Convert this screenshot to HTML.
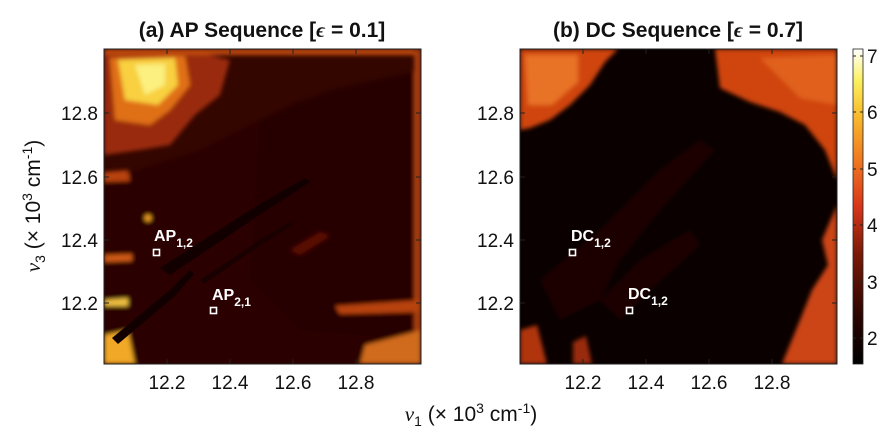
<!DOCTYPE html>
<html><head><style>
body{margin:0;background:#fff;}
svg{display:block;font-family:"Liberation Sans",Arial,sans-serif;}
</style></head><body>
<svg width="882" height="442" viewBox="0 0 882 442" xmlns="http://www.w3.org/2000/svg">
<defs>
<linearGradient id="cb" x1="0" y1="1" x2="0" y2="0">
<stop offset="0" stop-color="#000"/>
<stop offset="0.15" stop-color="#2a0400"/>
<stop offset="0.35" stop-color="#7a1a08"/>
<stop offset="0.5" stop-color="#d8361a"/>
<stop offset="0.65" stop-color="#f07a20"/>
<stop offset="0.8" stop-color="#f8c030"/>
<stop offset="0.9" stop-color="#fbf060"/>
<stop offset="1" stop-color="#ffffff"/>
</linearGradient>
<clipPath id="ca"><rect x="104" y="49" width="317" height="315"/></clipPath>
<clipPath id="cbp"><rect x="520" y="49" width="317" height="315"/></clipPath>
<filter id="bl"><feGaussianBlur stdDeviation="2"/></filter>
</defs>

<!-- Panel a -->
<g clip-path="url(#ca)">
<rect x="104" y="49" width="317" height="315" fill="#340600"/>
<g filter="url(#bl)">
<polygon points="104,180 200,150 300,100 421,80 421,364 104,364" fill="#2c0400"/>
<polygon points="260,120 330,90 421,70 421,340 300,330 250,280" fill="#260300"/>
<polygon points="104,55 195,52 230,60 220,95 195,115 170,145 140,150 104,155" fill="#9a2a0a"/>
<polygon points="110,58 185,56 190,85 170,110 150,125 115,120" fill="#e07018"/>
<polygon points="118,60 175,58 178,85 158,105 125,100" fill="#f8d040"/>
<polygon points="135,65 165,64 165,85 145,95" fill="#fcf080"/>
<rect x="104" y="49" width="317" height="6" fill="#c04a10"/>
<rect x="414" y="49" width="7" height="315" fill="#a83e10"/>
<polygon points="104,335 128,330 135,364 104,364" fill="#f0a828"/>
<polygon points="365,345 421,330 421,364 360,364" fill="#d06a1c"/>
<polygon points="335,306 421,300 421,312 340,314" fill="#b84210"/>
<polygon points="104,300 128,298 128,306 104,306" fill="#f0c040"/>
<polygon points="104,255 132,254 132,261 104,262" fill="#d05a14"/>
<circle cx="148" cy="218" r="3.5" fill="#f0a020"/>
<polygon points="104,172 128,170 130,181 104,182" fill="#b84210"/>
<polygon points="290,250 320,232 330,236 300,255" fill="#5a1004"/>
</g>
<polygon points="160,268 250,210 305,178 310,182 255,218 170,275" fill="#120000"/>
<polygon points="112,338 170,290 190,270 194,274 175,296 118,344" fill="#120000"/>
<polygon points="200,280 260,240 290,222 292,225 262,244 204,284" fill="#180100"/>
<g fill="none" stroke="#fff" stroke-width="1.6">
<rect x="153.5" y="249.5" width="6" height="6"/>
<rect x="210.5" y="307.5" width="6" height="6"/>
</g>
<g fill="#fff" font-weight="bold">
<text x="154" y="241" font-size="16">AP<tspan font-size="12" dy="6">1,2</tspan></text>
<text x="212" y="300" font-size="16">AP<tspan font-size="12" dy="6">2,1</tspan></text>
</g>
</g>
<rect x="104" y="49" width="317" height="315" fill="none" stroke="#222" stroke-width="1"/>

<!-- Panel b -->
<g clip-path="url(#cbp)">
<rect x="520" y="49" width="317" height="315" fill="#0a0000"/>
<g filter="url(#bl)">
<polygon points="520,49 618,49 605,62 590,85 570,105 550,120 530,128 520,130" fill="#d04410"/>
<polygon points="525,55 578,55 578,82 552,105 528,105" fill="#e87228"/>
<polygon points="715,49 837,49 837,180 825,150 805,125 780,112 750,102 720,88" fill="#d04410"/>
<polygon points="760,58 837,55 837,105 800,98" fill="#e0601e"/>
<polygon points="837,205 822,240 828,265 812,290 800,320 782,364 837,364" fill="#cc4412"/>
<polygon points="520,330 537,325 547,364 520,364" fill="#b03410"/>
<polygon points="573,342 586,336 592,364 573,364" fill="#9a2c10"/>
<polygon points="540,280 600,230 660,170 700,140 715,150 660,210 620,260 600,300 560,320" fill="#1e0100"/>
<polygon points="600,300 640,260 690,230 700,245 650,290 620,320" fill="#1c0100"/>
</g>
<g fill="none" stroke="#fff" stroke-width="1.6">
<rect x="569.5" y="249.5" width="6" height="6"/>
<rect x="626.5" y="307.5" width="6" height="6"/>
</g>
<g fill="#fff" font-weight="bold">
<text x="571" y="241" font-size="16">DC<tspan font-size="12" dy="6">1,2</tspan></text>
<text x="628" y="299" font-size="16">DC<tspan font-size="12" dy="6">1,2</tspan></text>
</g>
</g>
<rect x="520" y="49" width="317" height="315" fill="none" stroke="#222" stroke-width="1"/>

<!-- ticks -->
<g stroke="#222" stroke-width="1">
<path d="M167,49v5M230,49v5M293,49v5M356,49v5M167,364v-5M230,364v-5M293,364v-5M356,364v-5"/>
<path d="M104,113h5M104,177h5M104,240h5M104,303h5M421,113h-5M421,177h-5M421,240h-5M421,303h-5"/>
<path d="M583,49v5M646,49v5M709,49v5M772,49v5M583,364v-5M646,364v-5M709,364v-5M772,364v-5"/>
<path d="M520,113h5M520,177h5M520,240h5M520,303h5M837,113h-5M837,177h-5M837,240h-5M837,303h-5"/>
</g>
<g font-size="19" fill="#111" text-anchor="middle">
<text x="167" y="389">12.2</text><text x="230" y="389">12.4</text><text x="293" y="389">12.6</text><text x="356" y="389">12.8</text>
<text x="583" y="389">12.2</text><text x="646" y="389">12.4</text><text x="709" y="389">12.6</text><text x="772" y="389">12.8</text>
</g>
<g font-size="19" fill="#111" text-anchor="end">
<text x="98" y="120">12.8</text><text x="98" y="184">12.6</text><text x="98" y="247">12.4</text><text x="98" y="310">12.2</text>
<text x="514" y="120">12.8</text><text x="514" y="184">12.6</text><text x="514" y="247">12.4</text><text x="514" y="310">12.2</text>
</g>

<!-- titles -->
<g font-size="21" font-weight="bold" fill="#111" text-anchor="middle">
<text x="262" y="37">(a) AP Sequence [<tspan font-style="italic" font-family="Liberation Serif">ϵ</tspan> = 0.1]</text>
<text x="678" y="37">(b) DC Sequence [<tspan font-style="italic" font-family="Liberation Serif">ϵ</tspan> = 0.7]</text>
</g>

<!-- axis labels -->
<text x="471" y="421" font-size="21" fill="#111" text-anchor="middle"><tspan font-style="italic" font-family="Liberation Serif">ν</tspan><tspan font-size="14" dy="5">1</tspan><tspan dy="-5"> (× 10</tspan><tspan font-size="14" dy="-8">3</tspan><tspan dy="8"> cm</tspan><tspan font-size="14" dy="-8">-1</tspan><tspan dy="8">)</tspan></text>
<text transform="translate(40,206) rotate(-90)" font-size="21" fill="#111" text-anchor="middle"><tspan font-style="italic" font-family="Liberation Serif">ν</tspan><tspan font-size="14" dy="5">3</tspan><tspan dy="-5"> (× 10</tspan><tspan font-size="14" dy="-8">3</tspan><tspan dy="8"> cm</tspan><tspan font-size="14" dy="-8">-1</tspan><tspan dy="8">)</tspan></text>

<!-- colorbar -->
<rect x="853" y="49" width="10" height="315" fill="url(#cb)" stroke="#222" stroke-width="0.8"/>
<g stroke="#222"><path d="M853,56h3M853,112h3M853,169h3M853,225h3M853,282h3M853,338h3M863,56h-3M863,112h-3M863,169h-3M863,225h-3M863,282h-3M863,338h-3"/></g>
<g font-size="19" fill="#111">
<text x="867" y="63">7</text><text x="867" y="119">6</text><text x="867" y="176">5</text><text x="867" y="232">4</text><text x="867" y="289">3</text><text x="867" y="345">2</text>
</g>
</svg>
</body></html>
